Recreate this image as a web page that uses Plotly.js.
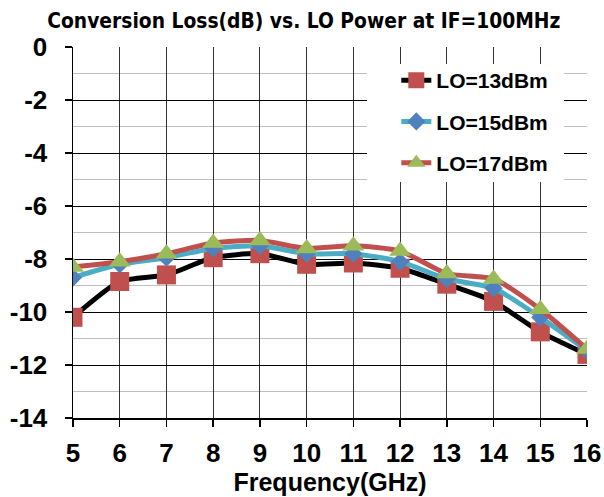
<!DOCTYPE html>
<html><head><meta charset="utf-8">
<script src="https://cdn.plot.ly/plotly-3.0.1.min.js"></script>
<style>body{margin:0;background:#fff}#c{width:604px;height:497px}</style>
</head><body><div id="c"></div>
<script>
const freq = [5,6,7,8,9,10,11,12,13,14,15,16];
const lo13 = [-10.2,-8.85,-8.6,-7.95,-7.8,-8.2,-8.15,-8.35,-8.95,-9.6,-10.75,-11.6];
const lo15 = [-8.7,-8.2,-7.95,-7.6,-7.5,-7.8,-7.8,-8.1,-8.75,-9.1,-10.2,-11.45];
const lo17 = [-8.3,-8.1,-7.8,-7.4,-7.3,-7.6,-7.5,-7.7,-8.55,-8.75,-9.9,-11.4];
const names = ['LO=13dBm','LO=15dBm','LO=17dBm'];
const yTicks = [0,-2,-4,-6,-8,-10,-12,-14];

const traces = [
  {x:freq,y:lo13,name:names[0],legendgroup:'a',mode:'lines+markers',line:{color:'#000000',width:5,shape:'spline',smoothing:0.6},
   marker:{symbol:'square',size:19,color:'#C0504D'}},
  {x:freq,y:lo15,name:names[1],legendgroup:'b',mode:'lines+markers',line:{color:'#4BACC6',width:5,shape:'spline',smoothing:0.6},
   marker:{symbol:'diamond',size:14,color:'#4F81BD'}},
  {x:freq,y:lo17,name:names[2],legendgroup:'c',mode:'lines+markers',line:{color:'#C0504D',width:5,shape:'spline',smoothing:0.6},
   marker:{symbol:'triangle-up',size:19,color:'#9BBB59'}}
];
const tf = {family:'Arial, Liberation Sans',size:26,color:'#000',weight:'bold'};
const layout = {
  width:604,height:497,
  margin:{l:73,r:17,t:47,b:79},
  paper_bgcolor:'#fff',plot_bgcolor:'#fff',
  title:{text:'Conversion Loss(dB) vs. LO Power at IF=100MHz',font:{family:'Tahoma, DejaVu Sans Condensed, DejaVu Sans',size:20.8,color:'#000',weight:'bold'},x:0.503,xanchor:'center',y:0.972,yanchor:'top'},
  xaxis:{range:[5,16],tickvals:freq,ticktext:freq.map(String),showgrid:true,gridcolor:'#333',gridwidth:1,
    zeroline:false,showline:true,linecolor:'#000',linewidth:1.5,ticks:'outside',ticklen:7,tickcolor:'#000',tickwidth:1.5,ticklabelstandoff:4,
    tickfont:tf,
    title:{text:'Frequency(GHz)',font:{family:'Arial, Liberation Sans',size:25,color:'#000',weight:'bold'},standoff:6}},
  yaxis:{range:[-14,0],tickvals:yTicks,ticktext:yTicks.map(String),showgrid:true,gridcolor:'#000',gridwidth:1,
    zeroline:false,showline:true,linecolor:'#000',linewidth:1.5,ticks:'outside',ticklen:7,tickcolor:'#000',tickwidth:1.5,ticklabelstandoff:12,
    minor:{dtick:1,showgrid:true,gridcolor:'#BFBFBF',gridwidth:1},
    tickfont:tf},
  shapes:[{type:'rect',xref:'paper',yref:'paper',x0:0.572,x1:0.955,y0:0.636,y1:0.954,fillcolor:'#fff',line:{width:0},layer:'above'}],
  legend:{x:0.629,y:0.965,xanchor:'left',yanchor:'top',bgcolor:'rgba(0,0,0,0)',borderwidth:0,
    font:{family:'Arial, Liberation Sans',size:21,color:'#000',weight:'bold'},tracegroupgap:11,traceorder:'grouped'},
  showlegend:true
};
Plotly.newPlot('c',traces,layout,{displayModeBar:false,staticPlot:true});
</script></body></html>
